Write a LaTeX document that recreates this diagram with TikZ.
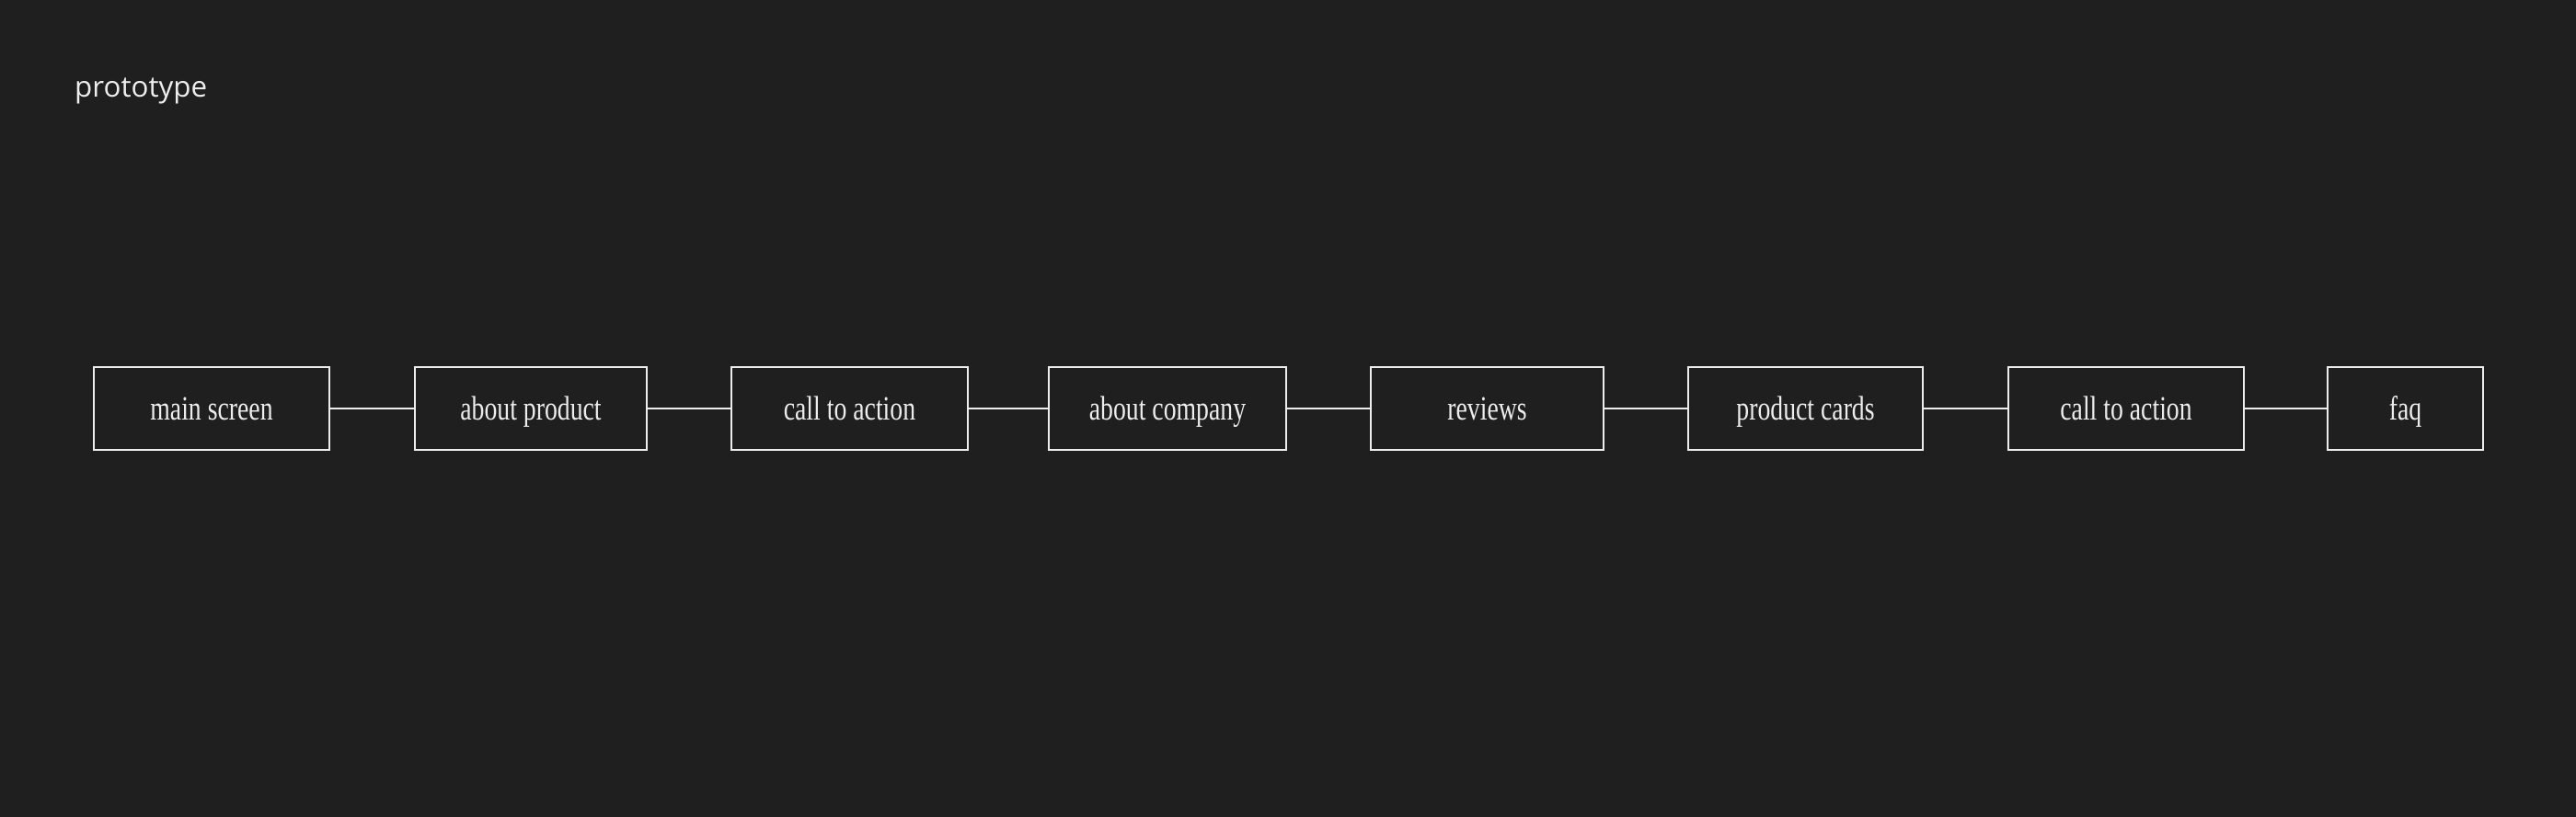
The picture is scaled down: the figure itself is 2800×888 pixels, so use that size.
\documentclass[tikz,border=0pt]{standalone}
\usepackage{fontspec}
\usepackage{graphicx}
\setmainfont{Liberation Serif}
\newfontfamily\protofont{Open Sans}
\definecolor{bgc}{HTML}{1F1F1F}
\definecolor{fgc}{HTML}{EDEDED}
\newcommand\lbl[1]{\scalebox{0.75}[1]{#1}}
\tikzset{
  pagebox/.style={draw=fgc, line width=1.6pt, fill=bgc, rectangle, inner sep=0pt, outer sep=0pt,
    minimum height=90pt, text height=30pt, text depth=6pt, text=fgc, font=\fontsize{37}{40}\selectfont},
  conn/.style={draw=fgc, line width=1.6pt}
}
\begin{document}
\begin{tikzpicture}[x=1pt,y=-1pt]
\fill[bgc] (0,0) rectangle (2800,888);
\useasboundingbox (0,0) rectangle (2800,888);
\node[anchor=base west, text=fgc, inner sep=0pt] (title) at (81,106)
  {\resizebox{144pt}{!}{\protofont prototype}};
\node[pagebox, minimum width=256pt] (b1) at (230,444) {\lbl{main screen}};
\node[pagebox, minimum width=252pt] (b2) at (577,444) {\lbl{about product}};
\node[pagebox, minimum width=257pt] (b3) at (923.5,444) {\lbl{call to action}};
\node[pagebox, minimum width=258pt] (b4) at (1269,444) {\lbl{about company}};
\node[pagebox, minimum width=253pt] (b5) at (1616.5,444) {\lbl{reviews}};
\node[pagebox, minimum width=255pt] (b6) at (1962.5,444) {\lbl{product cards}};
\node[pagebox, minimum width=256pt] (b7) at (2311,444) {\lbl{call to action}};
\node[pagebox, minimum width=169pt] (b8) at (2614.5,444) {\lbl{faq}};
\draw[conn] (b1.east) -- (b2.west);
\draw[conn] (b2.east) -- (b3.west);
\draw[conn] (b3.east) -- (b4.west);
\draw[conn] (b4.east) -- (b5.west);
\draw[conn] (b5.east) -- (b6.west);
\draw[conn] (b6.east) -- (b7.west);
\draw[conn] (b7.east) -- (b8.west);
\end{tikzpicture}
\end{document}
